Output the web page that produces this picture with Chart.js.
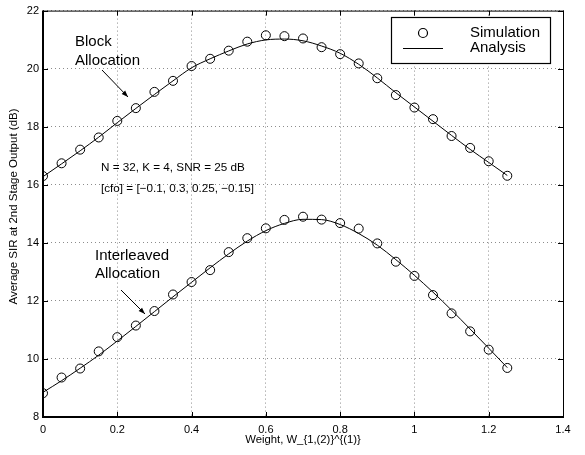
<!DOCTYPE html>
<html>
<head>
<meta charset="utf-8">
<script src="https://cdn.jsdelivr.net/npm/chart.js@4/dist/chart.umd.min.js"></script>
<style>
  html, body { margin: 0; padding: 0; background: #fff; }
  #wrap { width: 585px; height: 455px; }
</style>
</head>
<body>
<div id="wrap"><canvas id="sirChart" width="585" height="455"></canvas></div>
<script>
const weights = [0, 0.05, 0.1, 0.15, 0.2, 0.25, 0.3, 0.35, 0.4, 0.45, 0.5, 0.55, 0.6,
  0.65, 0.7, 0.75, 0.8, 0.85, 0.9, 0.95, 1.0, 1.05, 1.1, 1.15, 1.2, 1.25];

const blockSim = [16.30, 16.74, 17.21, 17.63, 18.20, 18.64, 19.20, 19.58, 20.09, 20.34,
  20.62, 20.93, 21.15, 21.12, 21.04, 20.74, 20.50, 20.18, 19.67, 19.09, 18.66, 18.26,
  17.68, 17.27, 16.81, 16.31];
const blockAna = [16.28, 16.72, 17.17, 17.64, 18.14, 18.63, 19.11, 19.58, 20.03, 20.34,
  20.61, 20.85, 20.99, 21.02, 20.96, 20.78, 20.53, 20.15, 19.68, 19.17, 18.68, 18.19,
  17.70, 17.22, 16.77, 16.32];

const interSim = [8.82, 9.36, 9.67, 10.26, 10.75, 11.15, 11.65, 12.22, 12.65, 13.06,
  13.68, 14.16, 14.50, 14.79, 14.90, 14.80, 14.68, 14.49, 13.98, 13.35, 12.86, 12.20,
  11.57, 10.95, 10.32, 9.69];
const interAna = [8.85, 9.25, 9.68, 10.13, 10.62, 11.12, 11.63, 12.14, 12.64, 13.14,
  13.62, 14.06, 14.42, 14.67, 14.81, 14.80, 14.63, 14.32, 13.92, 13.42, 12.88, 12.30,
  11.68, 11.03, 10.37, 9.70];

const xTicks = [0, 0.2, 0.4, 0.6, 0.8, 1.0, 1.2, 1.4];
const yTicks = [8, 10, 12, 14, 16, 18, 20, 22];

const FONT = '"Liberation Sans", Arial, Helvetica, sans-serif';
const toPts = (ys) => ys.map((y, i) => ({ x: weights[i], y }));

// matlab-like frame, inward ticks, text notes and legend
const decorations = {
  id: "decorations",
  afterDraw(chart) {
    const { ctx, chartArea: a, scales: { x, y } } = chart;
    ctx.save();
    ctx.strokeStyle = "#000";
    ctx.lineWidth = 1;
    ctx.beginPath();
    xTicks.forEach((t) => {
      const px = Math.round(x.getPixelForValue(t)) + 0.5;
      ctx.moveTo(px, a.bottom); ctx.lineTo(px, a.bottom - 5);
      ctx.moveTo(px, a.top); ctx.lineTo(px, a.top + 5);
    });
    yTicks.forEach((t) => {
      const py = Math.round(y.getPixelForValue(t)) + 0.5;
      ctx.moveTo(a.left, py); ctx.lineTo(a.left + 5, py);
      ctx.moveTo(a.right, py); ctx.lineTo(a.right - 5, py);
    });
    ctx.stroke();

    ctx.lineWidth = 1;
    ctx.strokeRect(a.left + 0.5, a.top + 0.5, a.right - a.left, a.bottom - a.top);
    ctx.lineWidth = 2;
    ctx.beginPath();
    ctx.moveTo(a.left, a.top);
    ctx.lineTo(a.left, a.bottom);
    ctx.lineTo(a.right + 1, a.bottom);
    ctx.stroke();

    // y axis title (a bit above the plot centre, as in the original)
    ctx.fillStyle = "#000";
    ctx.save();
    ctx.translate(14, 206.5);
    ctx.rotate(-Math.PI / 2);
    ctx.textAlign = "center";
    ctx.textBaseline = "middle";
    ctx.font = "11.5px " + FONT;
    ctx.fillText("Average SIR at 2nd Stage Output (dB)", 0, 0);
    ctx.restore();

    // notes
    ctx.textBaseline = "middle";
    ctx.textAlign = "left";
    ctx.font = "15px " + FONT;
    ctx.fillText("Block", 75, 42);
    ctx.fillText("Allocation", 75, 61);
    ctx.fillText("Interleaved", 95, 256);
    ctx.fillText("Allocation", 95, 274);
    ctx.font = "11.7px " + FONT;
    ctx.fillText("N = 32, K = 4, SNR = 25 dB", 101, 168);
    ctx.fillText("[cfo] = [\u22120.1, 0.3, 0.25, \u22120.15]", 101, 189);

    const arrow = (x1, y1, x2, y2) => {
      ctx.lineWidth = 1;
      ctx.beginPath();
      ctx.moveTo(x1, y1);
      ctx.lineTo(x2, y2);
      ctx.stroke();
      const ang = Math.atan2(y2 - y1, x2 - x1);
      const len = 7, spread = 0.35;
      ctx.beginPath();
      ctx.moveTo(x2, y2);
      ctx.lineTo(x2 - len * Math.cos(ang - spread), y2 - len * Math.sin(ang - spread));
      ctx.lineTo(x2 - len * Math.cos(ang + spread), y2 - len * Math.sin(ang + spread));
      ctx.closePath();
      ctx.fill();
    };
    arrow(102, 70, 128, 97);
    arrow(121, 290, 145, 314);

    // legend
    ctx.fillStyle = "#fff";
    ctx.fillRect(391, 17, 159, 46);
    ctx.lineWidth = 1.2;
    ctx.strokeRect(391.5, 17.5, 159, 46);
    ctx.beginPath();
    ctx.arc(423, 33, 4.5, 0, Math.PI * 2);
    ctx.stroke();
    ctx.lineWidth = 1;
    ctx.beginPath();
    ctx.moveTo(403, 48.5);
    ctx.lineTo(443, 48.5);
    ctx.stroke();
    ctx.fillStyle = "#000";
    ctx.font = "15px " + FONT;
    ctx.fillText("Simulation", 470, 33);
    ctx.fillText("Analysis", 470, 48);
    ctx.restore();
  },
};

const canvas = document.getElementById("sirChart");
new Chart(canvas, {
  type: "scatter",
  data: {
    datasets: [
      {
        label: "Analysis",
        data: toPts(blockAna),
        showLine: true,
        borderColor: "#000",
        borderWidth: 1,
        pointRadius: 0,
        cubicInterpolationMode: "monotone",
      },
      {
        label: "Analysis",
        data: toPts(interAna),
        showLine: true,
        borderColor: "#000",
        borderWidth: 1,
        pointRadius: 0,
        cubicInterpolationMode: "monotone",
      },
      {
        label: "Simulation",
        data: toPts(blockSim),
        showLine: false,
        borderColor: "#000",
        backgroundColor: "rgba(0,0,0,0)",
        borderWidth: 1,
        pointRadius: 4.5,
      },
      {
        label: "Simulation",
        data: toPts(interSim),
        showLine: false,
        borderColor: "#000",
        backgroundColor: "rgba(0,0,0,0)",
        borderWidth: 1,
        pointRadius: 4.5,
      },
    ],
  },
  options: {
    responsive: false,
    animation: false,
    layout: { padding: { top: 7, right: 22, left: 0, bottom: 0 } },
    plugins: { legend: { display: false }, tooltip: { enabled: false } },
    scales: {
      x: {
        type: "linear",
        min: 0,
        max: 1.4,
        afterFit: (s) => { s.height = 38; },
        afterBuildTicks: (s) => { s.ticks = xTicks.map((v) => ({ value: v })); },
        ticks: {
          color: "#000",
          padding: 6,
          maxRotation: 0,
          font: { family: FONT, size: 11 },
          callback: (v) => String(Number(v.toFixed(2))),
        },
        grid: { color: "#8c8c8c", drawTicks: false, lineWidth: 1 },
        border: { display: false, dash: [1, 3] },
        title: {
          display: true,
          text: "Weight, W_{1,(2)}^{(1)}",
          color: "#000",
          font: { family: FONT, size: 11.3 },
          padding: { top: 0, bottom: 8 },
        },
      },
      y: {
        type: "linear",
        min: 8,
        max: 22,
        afterFit: (s) => { s.width = 43; },
        afterBuildTicks: (s) => { s.ticks = yTicks.map((v) => ({ value: v })); },
        ticks: { color: "#000", padding: 4, font: { family: FONT, size: 11 } },
        grid: { color: "#8c8c8c", drawTicks: false, lineWidth: 1 },
        border: { display: false, dash: [1, 3] },
      },
    },
  },
  plugins: [decorations],
});
</script>
</body>
</html>
